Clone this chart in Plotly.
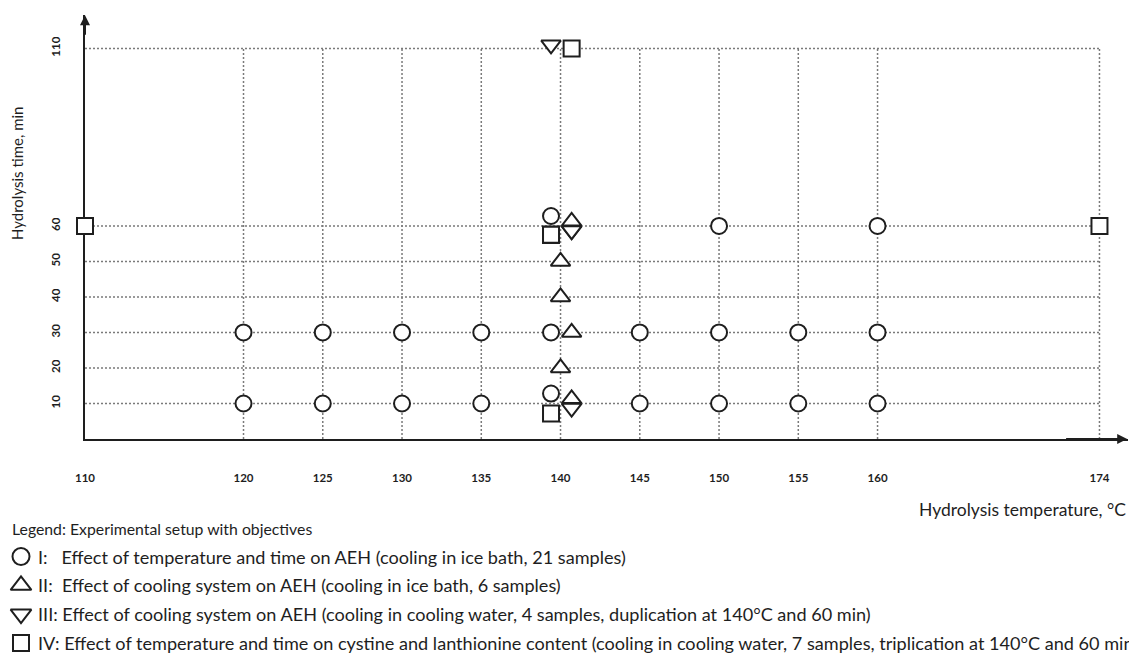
import plotly.graph_objects as go

# ---------------- data ----------------
temp_ticks = [110, 120, 125, 130, 135, 140, 145, 150, 155, 160, 174]
time_ticks = [10, 20, 30, 40, 50, 60, 110]

# I: circles (21 samples)
s1_x = [120, 125, 130, 135, 139.4, 145, 150, 155, 160,
        120, 125, 130, 135, 139.4, 145, 150, 155, 160,
        139.4, 150, 160]
s1_y = [10, 10, 10, 10, 12.8, 10, 10, 10, 10,
        30, 30, 30, 30, 30, 30, 30, 30, 30,
        62.8, 60, 60]
# II: triangle-up (6 samples)
s2_x = [140.7, 140, 140.7, 140, 140, 140.7]
s2_y = [11.3, 20, 30, 40, 50, 61.3]
# III: triangle-down (4 samples)
s3_x = [140.7, 140.7, 140.7, 139.4]
s3_y = [8.7, 58.7, 58.7, 111]
# IV: squares (7 samples)
s4_x = [110, 139.4, 139.4, 139.4, 140.7, 139.4, 174]
s4_y = [60, 57.5, 57.5, 57.5, 110, 7.2, 60]

legend_title = "Legend: Experimental setup with objectives"
legend_labels = [
    "I:\u00a0\u00a0\u00a0Effect of temperature and time on AEH (cooling in ice bath, 21 samples)",
    "II:\u00a0\u00a0Effect of cooling system on AEH (cooling in ice bath, 6 samples)",
    "III: Effect of cooling system on AEH (cooling in cooling water, 4 samples, duplication at 140°C and 60 min)",
    "IV:\u00a0Effect of temperature and time on cystine and lanthionine content (cooling in cooling water, 7 samples, triplication at 140°C and 60 min)",
]
legend_rows = [0, 1, 2, 3]

# ---------------- layout constants ----------------
W, H = 1129, 654
PLOT_L, PLOT_R, PLOT_T, PLOT_B = 85, 1128, 15, 439   # pixel box of the main axes
X_RANGE = [110, 175.8]
Y_RANGE = [0, 119.4]
FONT = "Lato"
INK = "#1e1e1e"
ROW0, ROW_STEP = 556.5, 28.8          # legend row geometry (pixels)
LEG_SYM_X, LEG_TEXT_X, LEG_TITLE_X, LEG_TITLE_Y = 21, 36, 10, 528

def fx(px):
    return px / W

def fy(py):
    return 1 - py / H

fig = go.Figure()
symbols = ["circle", "triangle-up", "triangle-down", "square"]
sizes = [16, 17, 17, 16]
leg_sizes = [17, 18, 18, 16]
for i, (xs, ys) in enumerate([(s1_x, s1_y), (s2_x, s2_y), (s3_x, s3_y), (s4_x, s4_y)]):
    fig.add_trace(go.Scatter(
        x=xs, y=ys, mode="markers", showlegend=False, cliponaxis=False,
        marker=dict(symbol=symbols[i], size=sizes[i], color="white",
                    line=dict(color=INK, width=2)),
    ))
    # legend key symbol (on a hidden helper axis)
    fig.add_trace(go.Scatter(
        x=[0], y=[legend_rows[i]], mode="markers", showlegend=False, cliponaxis=False,
        xaxis="x2", yaxis="y2", hoverinfo="skip",
        marker=dict(symbol=symbols[i], size=leg_sizes[i], color="white",
                    line=dict(color=INK, width=2)),
    ))
    fig.add_annotation(text=legend_labels[i], xref="paper", yref="y2",
                       x=fx(LEG_TEXT_X), y=legend_rows[i], xanchor="left", yanchor="middle",
                       showarrow=False, font=dict(family=FONT, size=18.1, color=INK))

fig.add_annotation(text=legend_title, xref="paper", yref="paper",
                   x=fx(LEG_TITLE_X), y=fy(LEG_TITLE_Y), xanchor="left", yanchor="middle",
                   showarrow=False, font=dict(family=FONT, size=15.8, color=INK))

# grid (bounded box like the original)
for t in temp_ticks[1:]:
    fig.add_shape(type="line", x0=t, x1=t, y0=0, y1=max(time_ticks), xref="x", yref="y",
                  layer="below", line=dict(color="#7a7a7a", width=1.5, dash="2px,2px"))
for t in time_ticks:
    fig.add_shape(type="line", x0=temp_ticks[0], x1=temp_ticks[-1], y0=t, y1=t, xref="x", yref="y",
                  layer="below", line=dict(color="#7a7a7a", width=1.5, dash="2px,2px"))

# axis arrowheads
fig.add_annotation(x=X_RANGE[1] - 0.05, y=0, ax=X_RANGE[1] - 4, ay=0, xref="x", yref="y",
                   axref="x", ayref="y", text="", showarrow=True, arrowhead=2,
                   arrowsize=1, arrowwidth=2, arrowcolor=INK)
fig.add_annotation(x=temp_ticks[0], y=Y_RANGE[1] - 0.05, ax=temp_ticks[0], ay=Y_RANGE[1] - 6,
                   xref="x", yref="y", axref="x", ayref="y", text="", showarrow=True,
                   arrowhead=2, arrowsize=1, arrowwidth=2, arrowcolor=INK)

# axis titles
fig.add_annotation(text="Hydrolysis time, min", xref="paper", yref="paper",
                   x=fx(17), y=fy(174), textangle=-90, showarrow=False,
                   xanchor="center", yanchor="middle", font=dict(family=FONT, size=15, color=INK))
fig.add_annotation(text="Hydrolysis temperature, °C", xref="paper", yref="paper",
                   x=fx(1128), y=fy(509), showarrow=False,
                   xanchor="right", yanchor="middle", font=dict(family=FONT, size=17.5, color=INK))

fig.update_layout(
    width=W, height=H, margin=dict(l=0, r=0, t=0, b=0, autoexpand=False),
    paper_bgcolor="white", plot_bgcolor="rgba(0,0,0,0)",
    font=dict(family=FONT, size=15, color=INK),
    showlegend=False,
    xaxis=dict(domain=[fx(PLOT_L), fx(PLOT_R)], range=X_RANGE, tickvals=temp_ticks,
               ticktext=[str(t) for t in temp_ticks], showgrid=False, zeroline=False,
               showline=True, linecolor=INK, linewidth=2, ticks="", ticklabelstandoff=27,
               layer="below traces",
               tickfont=dict(family=FONT, size=11.5, color=INK, weight="bold")),
    yaxis=dict(domain=[fy(PLOT_B), fy(PLOT_T)], range=Y_RANGE, tickvals=time_ticks,
               ticktext=[str(t) for t in time_ticks], showgrid=False, zeroline=False,
               showline=True, linecolor=INK, linewidth=2, ticks="", tickangle=-90,
               ticklabelstandoff=18, layer="below traces",
               tickfont=dict(family=FONT, size=11.5, color=INK, weight="bold")),
    xaxis2=dict(domain=[0, fx(2 * LEG_SYM_X)], range=[-LEG_SYM_X, LEG_SYM_X], anchor="y2",
                visible=False, fixedrange=True),
    yaxis2=dict(domain=[0, fy(ROW0 - 1.5 * ROW_STEP)],
                range=[(H - ROW0) / ROW_STEP, -1.5], anchor="x2",
                visible=False, fixedrange=True),
)

fig.write_html("out.html")
